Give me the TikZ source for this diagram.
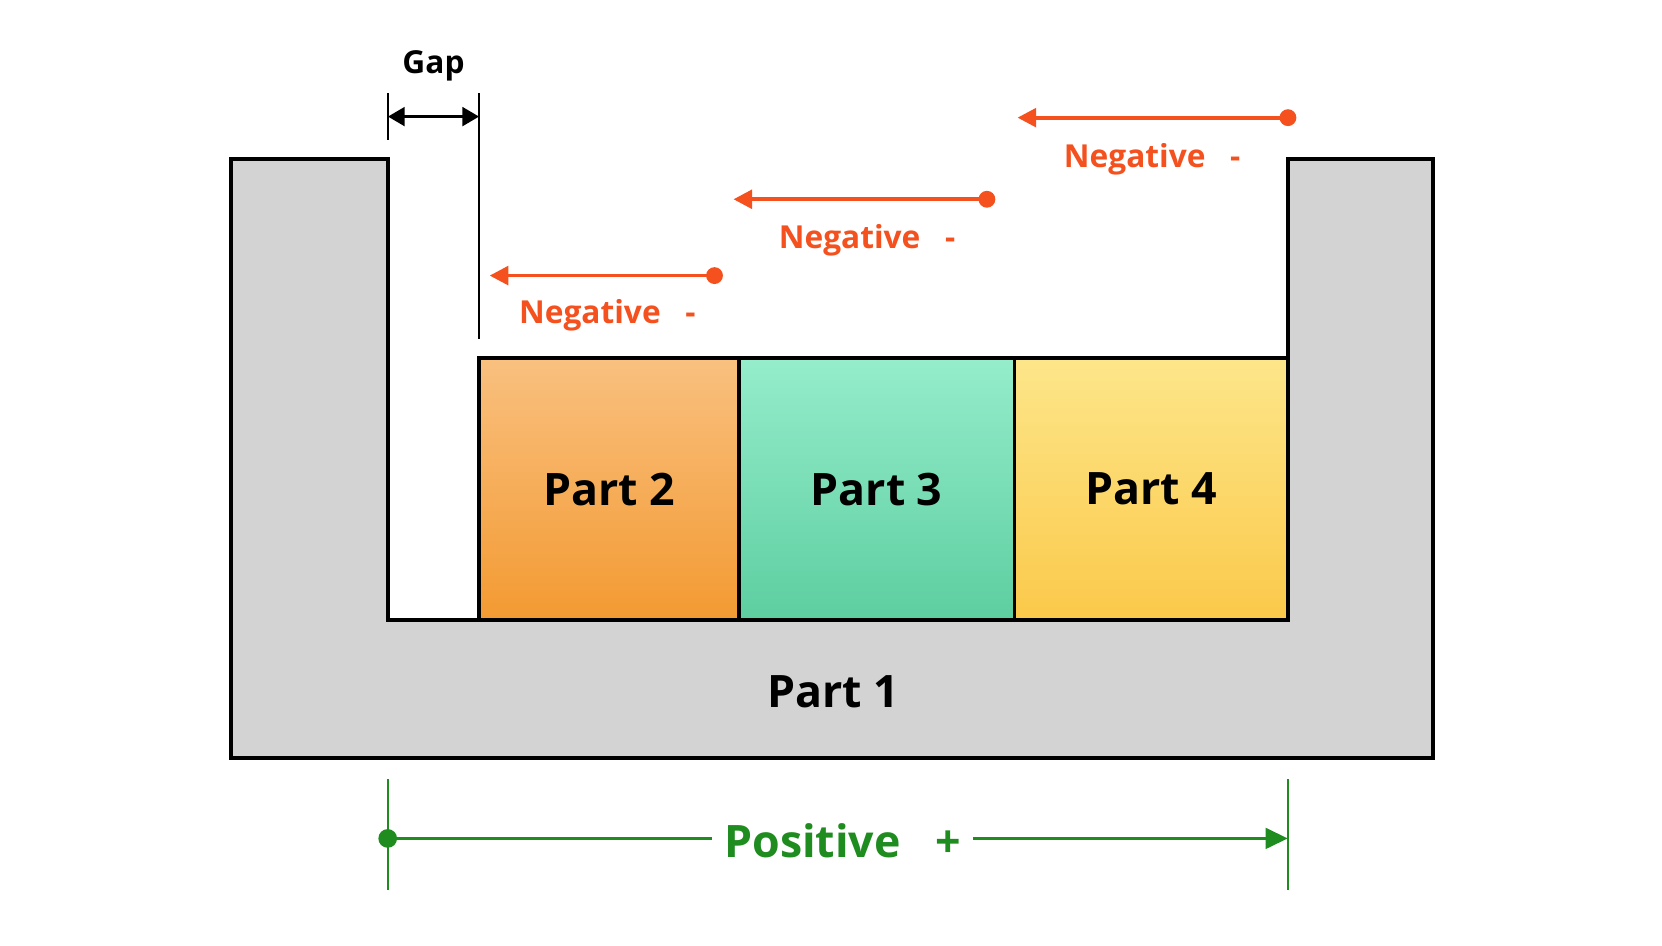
\documentclass[tikz,border=0pt]{standalone}
\usepackage{fontspec}
\setmainfont{Open Sans}
\usetikzlibrary{arrows.meta}
\definecolor{negc}{HTML}{F4511E}
\definecolor{posc}{HTML}{1E8C1E}
\definecolor{wallc}{HTML}{D3D3D3}
\definecolor{ptwotop}{HTML}{F9C07F}
\definecolor{ptwobot}{HTML}{F39A32}
\definecolor{pthreetop}{HTML}{95EDCB}
\definecolor{pthreebot}{HTML}{5DCEA0}
\definecolor{pfourtop}{HTML}{FDE68A}
\definecolor{pfourbot}{HTML}{FBC94A}
\tikzset{
  part/.style={draw=black, line width=2pt, minimum height=247*0.02cm, inner sep=0pt, font=\fontsize{24}{26}\selectfont\bfseries},
  neg/.style={negc, line width=2pt, {Triangle[length=10pt,width=10pt]}-{Circle[length=9pt]}},
  neglbl/.style={text=negc, font=\fontsize{17}{19}\selectfont\bfseries},
}
\begin{document}
\begin{tikzpicture}[x=0.02cm, y=-0.02cm]
    \useasboundingbox (0,0) rectangle (1568,892);
    \fill[white] (0,0) rectangle (1568,892);

    % base part
    \draw[fill=wallc, line width=2pt] (218,150) -- (366,150) -- (366,585) -- (1215,585) -- (1215,150)
      -- (1352,150) -- (1352,715) -- (218,715) -- cycle;
    \node(p1) at (786,653) [font=\fontsize{24}{26}\selectfont\bfseries] {Part 1};

    {
      \node(p2) at (574.5,461.5) [part, minimum width=245*0.02cm, top color=ptwotop, bottom color=ptwobot] {Part 2};
      \node(p3) at (827,461.5) [part, minimum width=260*0.02cm, top color=pthreetop, bottom color=pthreebot] {Part 3};
      \node(p4) at (1086,461.5) [part, minimum width=258*0.02cm, top color=pfourtop, bottom color=pfourbot] {Part 4};
    }

    % gap marker
    \coordinate(g1) at (366,88);  \coordinate(g2) at (452,88);
    \draw[line width=1.4pt] (g1) -- (366,132);
    \draw[line width=1.4pt] (g2) -- (452,320);
    \draw[line width=1.8pt, {Triangle[length=9pt,width=10pt]}-{Triangle[length=9pt,width=10pt]}] (366,110) -- (452,110);
    \node(gap) at (409,62) [font=\fontsize{17}{19}\selectfont\bfseries] {Gap};

    % negative shifts
    \coordinate(n1s) at (682,260);  \coordinate(n1e) at (462,260);
    \coordinate(n2s) at (939,188);  \coordinate(n2e) at (692,188);
    \coordinate(n3s) at (1223,111); \coordinate(n3e) at (960,111);
    \draw[neg] (n1e) -- (n1s);
    \draw[neg] (n2e) -- (n2s);
    \draw[neg] (n3e) -- (n3s);
    \node(l1) at (573,297) [neglbl] {Negative\ \ \ -};
    \node(l2) at (818,227) [neglbl] {Negative\ \ \ -};
    \node(l3) at (1087,150) [neglbl] {Negative\ \ \ -};

    % positive extent
    \draw[posc, line width=1.4pt] (366,735) -- (366,840);
    \draw[posc, line width=1.4pt] (1215,735) -- (1215,840);
    \node(pos) at (795,793) [text=posc, font=\fontsize{24}{26}\selectfont\bfseries] {Positive\ \ \ +};
    \draw[posc, line width=2pt, {Circle[length=10pt]}-] (357,791) -- (672,791);
    \draw[posc, line width=2pt, -{Triangle[length=12pt,width=11pt]}] (918,791) -- (1215,791);
\end{tikzpicture}
\end{document}
